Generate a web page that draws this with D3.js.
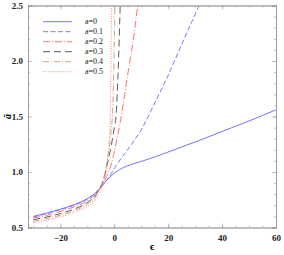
<!DOCTYPE html>
<html>
<head>
<meta charset="utf-8">
<script src="https://cdn.jsdelivr.net/npm/d3@7"></script>
<style>
  body { margin: 0; background: #fff; }
  text { font-family: "Liberation Serif", "DejaVu Serif", serif; }
</style>
</head>
<body>
<script>
// Width and height of chart
var width = 284;
var height = 255;
var margin = {top: 5.5, right: 8, bottom: 27.5, left: 28};

// data: epsilon values and a-bar values for each a
var eps0 = [-30, -25, -20, -15, -10, -7, -5, -3, 0, 3, 6, 10, 15, 20, 25, 30, 40, 50, 60];
var val0 = [0.60, 0.63, 0.665, 0.705, 0.76, 0.81, 0.86, 0.92, 0.99, 1.035, 1.065, 1.095, 1.135, 1.18, 1.225, 1.27, 1.365, 1.46, 1.56];

var eps1 = [-30, -25, -20, -15, -10, -7, -5, -3, -1, 1, 4, 7, 10, 15, 20, 25, 30, 32];
var val1 = [0.595, 0.625, 0.66, 0.70, 0.755, 0.81, 0.86, 0.92, 0.99, 1.07, 1.17, 1.27, 1.38, 1.62, 1.87, 2.15, 2.42, 2.53];

var eps2 = [-30, -25, -20, -15, -10, -7, -5, -3, -1, 1, 2, 3, 5, 7, 8.7];
var val2 = [0.585, 0.61, 0.645, 0.685, 0.74, 0.80, 0.86, 0.95, 1.08, 1.30, 1.42, 1.56, 1.88, 2.18, 2.5];

var eps3 = [-30, -25, -20, -15, -10, -7, -5.5, -4, -2.5, -1, 0, 0.7, 1.4, 2.2];
var val3 = [0.57, 0.595, 0.625, 0.665, 0.725, 0.79, 0.85, 0.93, 1.08, 1.25, 1.40, 1.52, 1.88, 2.5];

var eps4 = [-30, -25, -20, -15, -10, -7, -5.5, -4, -2.5, -1.2, -0.5, -0.1, 0.2];
var val4 = [0.555, 0.58, 0.61, 0.65, 0.71, 0.775, 0.84, 0.93, 1.12, 1.36, 1.62, 2.0, 2.5];

var eps5 = [-30, -25, -20, -15, -10, -7, -5.5, -4, -3, -2, -1.5, -1.2, -1.0];
var val5 = [0.545, 0.565, 0.595, 0.635, 0.69, 0.75, 0.81, 0.90, 1.02, 1.25, 1.5, 2.0, 2.5];

var legendText = ["a=0", "a=0.1", "a=0.2", "a=0.3", "a=0.4", "a=0.5"];
var xTicks = [-20, 0, 20, 40, 60];
var yTicks = [0.5, 1.0, 1.5, 2.0, 2.5];

var series = [
  {eps: eps0, val: val0, color: "#6464ff", dash: null},
  {eps: eps1, val: val1, color: "#6a6aff", dash: "5,2.5"},
  {eps: eps2, val: val2, color: "#ff6464", dash: "7,2,1,2"},
  {eps: eps3, val: val3, color: "#4a4a4a", dash: "7,4"},
  {eps: eps4, val: val4, color: "#c99a70", dash: "6,2,1,2"},
  {eps: eps5, val: val5, color: "#ff7a7a", dash: "1,1.5"}
];

var x = d3.scaleLinear().domain([-32, 60]).range([margin.left, width - margin.right]);
var y = d3.scaleLinear().domain([0.5, 2.5]).range([height - margin.bottom, margin.top]);

var svg = d3.select("body")
  .append("svg")
  .attr("width", width)
  .attr("height", height);

svg.append("clipPath").attr("id", "clip")
  .append("rect")
  .attr("x", x.range()[0]).attr("y", y.range()[1])
  .attr("width", x.range()[1] - x.range()[0])
  .attr("height", y.range()[0] - y.range()[1]);

var line = d3.line()
  .x(function(d) { return x(d[0]); })
  .y(function(d) { return y(d[1]); })
  .curve(d3.curveMonotoneX);

svg.append("g").attr("clip-path", "url(#clip)")
  .selectAll("path")
  .data(series)
  .enter()
  .append("path")
  .attr("d", function(s) { return line(s.eps.map(function(e, i) { return [e, s.val[i]]; })); })
  .style("fill", "none")
  .style("stroke", function(s) { return s.color; })
  .style("stroke-width", 0.9)
  .style("stroke-dasharray", function(s) { return s.dash; });

// frame with inward ticks on all four sides
var frameColor = "#999";
var minorX = d3.range(-30, 61, 5);
var minorY = d3.range(0.5, 2.51, 0.1);

function frame(axis, offset) {
  var g = svg.append("g").attr("transform", offset);
  g.call(axis);
  g.select(".domain").attr("stroke", frameColor).attr("stroke-width", 0.8);
  g.selectAll(".tick line").attr("stroke", frameColor).attr("stroke-width", 0.6);
  g.selectAll(".tick text")
    .style("font-size", "9px")
    .style("font-weight", "bold")
    .attr("fill", "#222");
  return g;
}

// minor ticks
frame(d3.axisBottom(x).tickValues(minorX).tickSize(-2).tickFormat(""), "translate(0," + y.range()[0] + ")");
frame(d3.axisTop(x).tickValues(minorX).tickSize(-2).tickFormat(""), "translate(0," + y.range()[1] + ")");
frame(d3.axisLeft(y).tickValues(minorY).tickSize(-2).tickFormat(""), "translate(" + x.range()[0] + ",0)");
frame(d3.axisRight(y).tickValues(minorY).tickSize(-2).tickFormat(""), "translate(" + x.range()[1] + ",0)");

// major ticks
var fmtX = function(d) { return d < 0 ? "\u2212" + Math.abs(d) : d; };
frame(d3.axisBottom(x).tickValues(xTicks).tickSize(-4).tickPadding(7).tickFormat(fmtX), "translate(0," + y.range()[0] + ")");
frame(d3.axisTop(x).tickValues(xTicks).tickSize(-4).tickFormat(""), "translate(0," + y.range()[1] + ")");
frame(d3.axisLeft(y).tickValues(yTicks).tickSize(-4).tickPadding(5).tickFormat(d3.format(".1f")), "translate(" + x.range()[0] + ",0)");
frame(d3.axisRight(y).tickValues(yTicks).tickSize(-4).tickFormat(""), "translate(" + x.range()[1] + ",0)");

// axis labels
svg.append("text")
  .attr("transform", "translate(11," + y(1.5) + ") rotate(-90)")
  .attr("text-anchor", "middle")
  .style("font-size", "10px")
  .style("font-style", "italic")
  .style("font-weight", "bold")
  .text("\u0101");

svg.append("text")
  .attr("x", x(14))
  .attr("y", 250)
  .attr("text-anchor", "middle")
  .style("font-size", "10px")
  .style("font-weight", "bold")
  .text("\u03f5");

// legend
var legend = svg.append("g")
  .selectAll("g")
  .data(series)
  .enter()
  .append("g")
  .attr("transform", function(d, i) { return "translate(43," + (21.7 + i * 10) + ")"; });
legend.append("line")
  .attr("x1", 0).attr("x2", 29)
  .style("stroke", function(s) { return s.color; })
  .style("stroke-width", 0.9)
  .style("stroke-dasharray", function(s) { return s.dash; });
legend.append("text")
  .data(legendText)
  .attr("x", 42)
  .attr("dy", "0.33em")
  .style("font-size", "8px")
  .attr("fill", "#222")
  .text(function(d) { return d; });
</script>
</body>
</html>
